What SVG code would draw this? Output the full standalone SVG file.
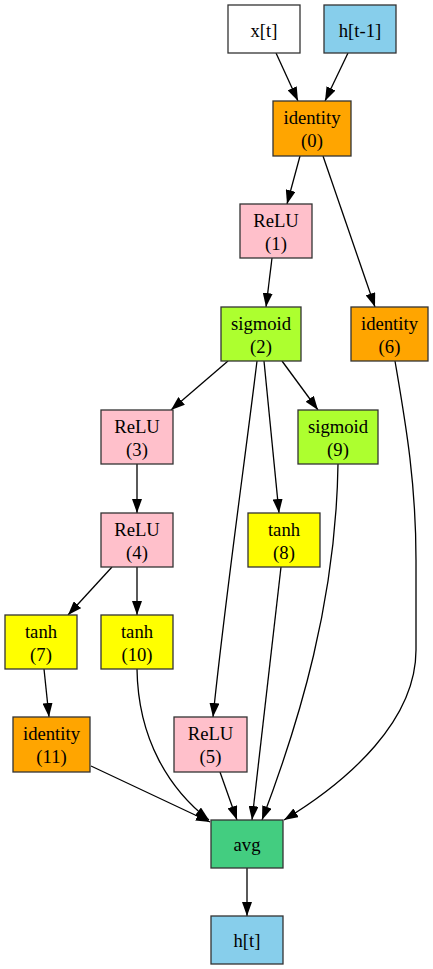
<svg xmlns="http://www.w3.org/2000/svg" width="433" height="969" viewBox="0 0 433 969">
<defs>
<marker id="ah" markerWidth="14" markerHeight="10" refX="14" refY="5" orient="auto" markerUnits="userSpaceOnUse">
<path d="M0,0 L14,5 L0,10 z" fill="#000"/>
</marker>
<style>
.n rect{stroke:#333;stroke-width:1.3}
.n text{font-family:'Liberation Serif','Times New Roman',serif;font-size:18.67px;fill:#000;text-anchor:middle}
#edges path{fill:none;stroke:#000;stroke-width:1.3;marker-end:url(#ah)}
.white{fill:#fff}.sky{fill:#87ceeb}.orange{fill:#ffa500}.pink{fill:#ffc0cb}.gy{fill:#adff2f}.yellow{fill:#ffff00}.green{fill:#43cd80}
</style>
</defs>
<rect width="433" height="969" fill="#fff"/>
<g id="edges">
<path d="M276,53 L298,101"/>
<path d="M348,53 L325,101"/>
<path d="M300,156 L287,204"/>
<path d="M323,156 L375,307"/>
<path d="M272,258 L266,307"/>
<path d="M228,361 L171,410"/>
<path d="M257,361 C245,460 225,600 213,717"/>
<path d="M264,361 L279,513"/>
<path d="M282,361 L318,410"/>
<path d="M137,464 L137,513"/>
<path d="M112,567 L68,615"/>
<path d="M137,567 L137,615"/>
<path d="M44,669 L49,717"/>
<path d="M91,766 L210,822"/>
<path d="M137,669 C138,740 170,790 209,820"/>
<path d="M220,772 L237,820"/>
<path d="M281,567 L252,820"/>
<path d="M338,464 C336,600 300,720 262,820"/>
<path d="M395,361 C405,420 416,480 416,560 L416,650 C416,720 350,780 284,820"/>
<path d="M247,868 L247,916"/>
</g>
<g font-family="Liberation Serif, serif">
<g id="n_xt" class="n"><rect class="white" x="228" y="5" width="72" height="48"/><text x="264" y="36.5">x[t]</text></g>
<g id="n_ht1" class="n"><rect class="sky" x="324" y="5" width="72" height="48"/><text x="360" y="36.5">h[t-1]</text></g>
<g id="n0" class="n"><rect class="orange" x="273" y="101" width="78" height="55"/><text x="312" y="124">identity</text><text x="312" y="147">(0)</text></g>
<g id="n1" class="n"><rect class="pink" x="240" y="204" width="72" height="54"/><text x="276" y="226.5">ReLU</text><text x="276" y="249.5">(1)</text></g>
<g id="n2" class="n"><rect class="gy" x="221" y="307" width="80" height="54"/><text x="261" y="329.5">sigmoid</text><text x="261" y="352.5">(2)</text></g>
<g id="n6" class="n"><rect class="orange" x="351" y="307" width="77" height="54"/><text x="389.5" y="329.5">identity</text><text x="389.5" y="352.5">(6)</text></g>
<g id="n3" class="n"><rect class="pink" x="101" y="410" width="72" height="54"/><text x="137" y="432.5">ReLU</text><text x="137" y="455.5">(3)</text></g>
<g id="n9" class="n"><rect class="gy" x="298" y="410" width="80" height="54"/><text x="338" y="432.5">sigmoid</text><text x="338" y="455.5">(9)</text></g>
<g id="n4" class="n"><rect class="pink" x="101" y="513" width="72" height="54"/><text x="137" y="535.5">ReLU</text><text x="137" y="558.5">(4)</text></g>
<g id="n8" class="n"><rect class="yellow" x="248" y="513" width="72" height="54"/><text x="284" y="535.5">tanh</text><text x="284" y="558.5">(8)</text></g>
<g id="n7" class="n"><rect class="yellow" x="5" y="615" width="72" height="54"/><text x="41" y="637.5">tanh</text><text x="41" y="660.5">(7)</text></g>
<g id="n10" class="n"><rect class="yellow" x="101" y="615" width="72" height="54"/><text x="137" y="637.5">tanh</text><text x="137" y="660.5">(10)</text></g>
<g id="n11" class="n"><rect class="orange" x="13" y="717" width="77" height="55"/><text x="51.5" y="740">identity</text><text x="51.5" y="763">(11)</text></g>
<g id="n5" class="n"><rect class="pink" x="174" y="717" width="73" height="55"/><text x="210.5" y="740">ReLU</text><text x="210.5" y="763">(5)</text></g>
<g id="n_avg" class="n"><rect class="green" x="211" y="820" width="72" height="48"/><text x="247" y="851">avg</text></g>
<g id="n_ht" class="n"><rect class="sky" x="211" y="916" width="72" height="48"/><text x="247" y="947">h[t]</text></g>
</g>
</svg>
